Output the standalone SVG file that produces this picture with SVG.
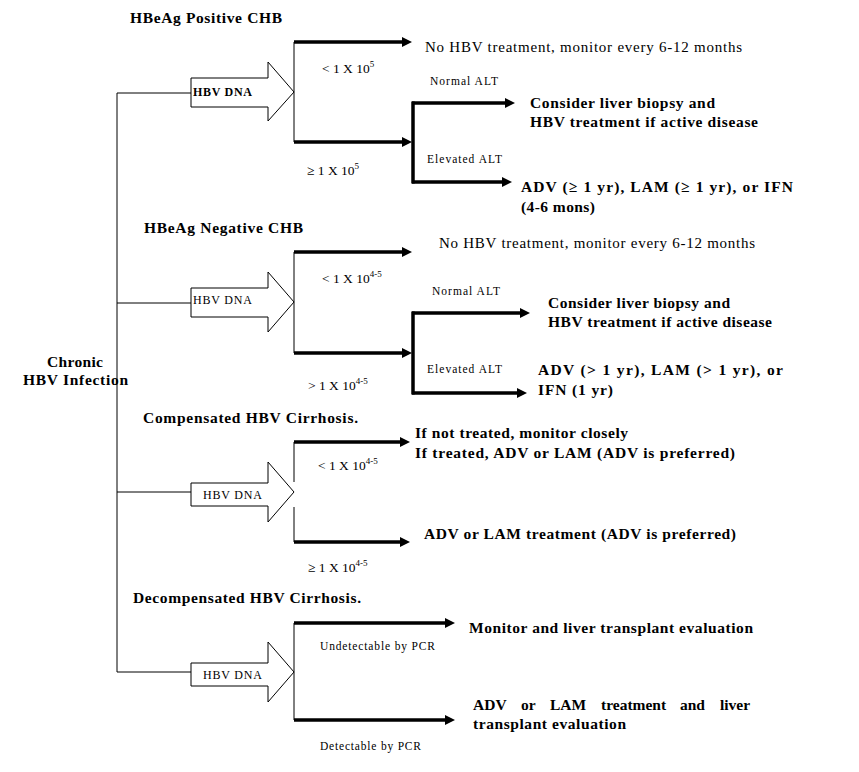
<svg xmlns="http://www.w3.org/2000/svg" width="859" height="772" viewBox="0 0 859 772" font-family="Liberation Serif, Times New Roman, serif">
<defs>
<marker id="ah" markerUnits="userSpaceOnUse" markerWidth="10" markerHeight="10" refX="1" refY="5" orient="auto">
<path d="M0,0 L10,5 L0,10 z" fill="#000"/>
</marker>
<style>
text{font-family:'Liberation Serif',serif;fill:#000}
.b{font-weight:bold;font-size:15.5px}
.r{font-size:15px}
.s{font-size:11.5px}
.v{font-size:13.5px}
.d{font-size:12px}
.sup{font-size:9px}
.thin{fill:none;stroke:#000;stroke-width:1}
.thick{fill:none;stroke:#000;stroke-width:3.5}
.arr{fill:none;stroke:#000;stroke-width:3.5;marker-end:url(#ah)}
.blk{fill:#fff;stroke:#000;stroke-width:1}
</style>
</defs>
<rect width="859" height="772" fill="#fff"/>

<g id="connectors">
<path class="thin" d="M117,93 V672 M117,93 H191 M117,303 H191 M117,492 H191 M117,672 H191"/>
<path class="thin" d="M294,42 V142"/>
<path class="arr" d="M294,42 H403"/>
<path class="arr" d="M294,142 H403"/>
<path class="thick" d="M413,101.5 V183.5"/>
<path class="arr" d="M412,103 H506"/>
<path class="arr" d="M412,182 H503"/>
<path class="thin" d="M294,252 V353"/>
<path class="arr" d="M294,252 H403"/>
<path class="arr" d="M294,353 H403"/>
<path class="thick" d="M413,311.5 V394.5"/>
<path class="arr" d="M412,313 H521"/>
<path class="arr" d="M412,393 H518"/>
<path class="thin" d="M294,442 V482 M294,507 V542"/>
<path class="arr" d="M294,442 H401"/>
<path class="arr" d="M294,542 H401"/>
<path class="thin" d="M294,623 V720"/>
<path class="arr" d="M294,623 H446"/>
<path class="arr" d="M294,720 H446"/>
</g>

<g id="root">
<text class="b" x="47" y="367" textLength="56" lengthAdjust="spacing">Chronic</text>
<text class="b" x="23" y="385" textLength="105" lengthAdjust="spacing">HBV Infection</text>
</g>

<g id="sec1-title"><text class="b" x="130" y="23" textLength="152" lengthAdjust="spacing">HBeAg Positive CHB</text></g>
<g id="sec1-dna">
<polygon class="blk" points="191,78 268,78 268,62 294,92 268,121 268,107 191,107"/>
<text x="193" y="96" style="font-weight:bold;font-size:12px" textLength="59" lengthAdjust="spacing">HBV DNA</text>
</g>
<g id="sec1-low"><text class="v" x="322" y="73">&lt; 1 X 10<tspan class="sup" dy="-6">5</tspan></text></g>
<g id="sec1-high"><text class="v" x="307" y="175">≥ 1 X 10<tspan class="sup" dy="-6">5</tspan></text></g>
<g id="sec1-notreat"><text class="r" x="425" y="52" textLength="317" lengthAdjust="spacing">No HBV treatment, monitor every 6-12 months</text></g>
<g id="sec1-normal"><text class="s" x="430" y="85" textLength="68" lengthAdjust="spacing">Normal ALT</text></g>
<g id="sec1-elevated"><text class="s" x="427" y="163" textLength="75" lengthAdjust="spacing">Elevated ALT</text></g>
<g id="sec1-biopsy">
<text class="b" x="530" y="108" textLength="185" lengthAdjust="spacing">Consider liver biopsy and</text>
<text class="b" x="530" y="127" textLength="228" lengthAdjust="spacing">HBV treatment if active disease</text>
</g>
<g id="sec1-treat">
<text class="b" x="521" y="192" textLength="272" lengthAdjust="spacing">ADV (≥ 1 yr), LAM (≥ 1 yr), or IFN</text>
<text class="b" x="521" y="212" textLength="74" lengthAdjust="spacing">(4-6 mons)</text>
</g>

<g id="sec2-title"><text class="b" x="144" y="233" textLength="159" lengthAdjust="spacing">HBeAg Negative CHB</text></g>
<g id="sec2-dna">
<polygon class="blk" points="191,288 268,288 268,272 294,302 268,332 268,317 191,317"/>
<text class="d" x="193" y="304" textLength="59" lengthAdjust="spacing">HBV DNA</text>
</g>
<g id="sec2-low"><text class="v" x="322" y="283">&lt; 1 X 10<tspan class="sup" dy="-6">4-5</tspan></text></g>
<g id="sec2-high"><text class="v" x="308" y="390">&gt; 1 X 10<tspan class="sup" dy="-6">4-5</tspan></text></g>
<g id="sec2-notreat"><text class="r" x="439" y="248" textLength="316" lengthAdjust="spacing">No HBV treatment, monitor every 6-12 months</text></g>
<g id="sec2-normal"><text class="s" x="432" y="295" textLength="68" lengthAdjust="spacing">Normal ALT</text></g>
<g id="sec2-elevated"><text class="s" x="427" y="373" textLength="75" lengthAdjust="spacing">Elevated ALT</text></g>
<g id="sec2-biopsy">
<text class="b" x="548" y="308" textLength="182" lengthAdjust="spacing">Consider liver biopsy and</text>
<text class="b" x="548" y="327" textLength="224" lengthAdjust="spacing">HBV treatment if active disease</text>
</g>
<g id="sec2-treat">
<text class="b" x="538" y="375" textLength="245" lengthAdjust="spacing">ADV (&gt; 1 yr), LAM (&gt; 1 yr), or</text>
<text class="b" x="538" y="395" textLength="75" lengthAdjust="spacing">IFN (1 yr)</text>
</g>

<g id="sec3-title"><text class="b" x="143" y="423" textLength="215" lengthAdjust="spacing">Compensated HBV Cirrhosis.</text></g>
<g id="sec3-dna">
<polygon class="blk" points="191,483 268,483 268,462 294,492 268,522 268,506 191,506"/>
<text class="d" x="203" y="499" textLength="59" lengthAdjust="spacing">HBV DNA</text>
</g>
<g id="sec3-low"><text class="v" x="318" y="470">&lt; 1 X 10<tspan class="sup" dy="-6">4-5</tspan></text></g>
<g id="sec3-high"><text class="v" x="308" y="572">≥ 1 X 10<tspan class="sup" dy="-6">4-5</tspan></text></g>
<g id="sec3-monitor">
<text class="b" x="415" y="438" textLength="213" lengthAdjust="spacing">If not treated, monitor closely</text>
<text class="b" x="415" y="458" textLength="320" lengthAdjust="spacing">If treated, ADV or LAM (ADV is preferred)</text>
</g>
<g id="sec3-treat"><text class="b" x="424" y="539" textLength="312" lengthAdjust="spacing">ADV or LAM treatment (ADV is preferred)</text></g>

<g id="sec4-title"><text class="b" x="133" y="603" textLength="228" lengthAdjust="spacing">Decompensated HBV Cirrhosis.</text></g>
<g id="sec4-dna">
<polygon class="blk" points="191,663 268,663 268,642 294,672 268,702 268,686 191,686"/>
<text class="d" x="203" y="679" textLength="59" lengthAdjust="spacing">HBV DNA</text>
</g>
<g id="sec4-undet"><text class="s" x="320" y="650" textLength="115" lengthAdjust="spacing">Undetectable by PCR</text></g>
<g id="sec4-det"><text class="s" x="320" y="750" textLength="101" lengthAdjust="spacing">Detectable by PCR</text></g>
<g id="sec4-monitor"><text class="b" x="469" y="633" textLength="284" lengthAdjust="spacing">Monitor and liver transplant evaluation</text></g>
<g id="sec4-treat">
<text class="b" y="710"><tspan x="473">ADV</tspan><tspan x="521">or</tspan><tspan x="550">LAM</tspan><tspan x="601">treatment</tspan><tspan x="680">and</tspan><tspan x="720">liver</tspan></text>
<text class="b" x="473" y="729" textLength="153" lengthAdjust="spacing">transplant evaluation</text>
</g>
</svg>
